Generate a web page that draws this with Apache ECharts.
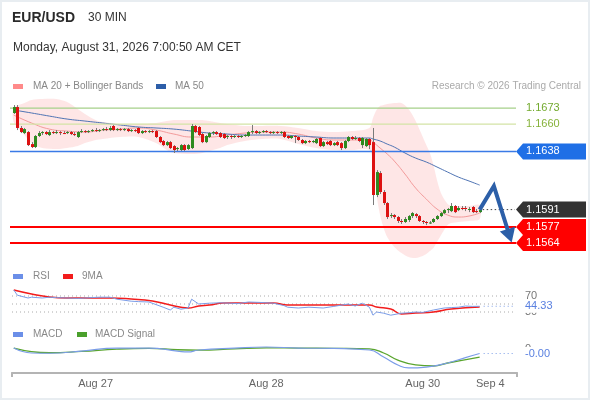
<!DOCTYPE html>
<html><head><meta charset="utf-8">
<script src="https://cdn.jsdelivr.net/npm/echarts@6/dist/echarts.min.js"></script>
<style>html,body{margin:0;padding:0;background:#fff}#c{width:590px;height:400px}</style>
</head><body><div id="c"></div>
<script>
// ---------- DATA ----------
// candles: [open, close, low, high], 30-min bars
const candles = [
 [1.16690,1.16738,1.16682,1.16754],[1.16738,1.16569,1.16552,1.16754],[1.16569,1.16536,1.16528,1.16585],
 [1.16528,1.16560,1.16520,1.16569],[1.16536,1.16431,1.16423,1.16544],[1.16439,1.16415,1.16407,1.16455],
 [1.16415,1.16504,1.16407,1.16512],[1.16504,1.16528,1.16496,1.16544],[1.16528,1.16536,1.16512,1.16544],
 [1.16536,1.16520,1.16512,1.16544],[1.16512,1.16536,1.16504,1.16552],[1.16536,1.16528,1.16520,1.16544],
 [1.16528,1.16536,1.16520,1.16552],[1.16536,1.16528,1.16512,1.16544],[1.16528,1.16524,1.16520,1.16544],
 [1.16528,1.16536,1.16520,1.16544],[1.16536,1.16520,1.16512,1.16544],[1.16520,1.16512,1.16504,1.16536],
 [1.16496,1.16536,1.16488,1.16544],[1.16536,1.16544,1.16528,1.16560],[1.16544,1.16536,1.16528,1.16552],
 [1.16536,1.16544,1.16528,1.16552],[1.16544,1.16552,1.16536,1.16560],[1.16552,1.16544,1.16536,1.16569],
 [1.16544,1.16552,1.16536,1.16560],[1.16552,1.16560,1.16544,1.16569],[1.16560,1.16552,1.16544,1.16577],
 [1.16552,1.16569,1.16544,1.16585],[1.16585,1.16552,1.16544,1.16593],[1.16552,1.16560,1.16544,1.16569],
 [1.16560,1.16552,1.16544,1.16569],[1.16552,1.16560,1.16544,1.16569],[1.16560,1.16544,1.16536,1.16569],
 [1.16544,1.16552,1.16536,1.16560],[1.16552,1.16544,1.16536,1.16560],[1.16569,1.16528,1.16520,1.16577],
 [1.16528,1.16544,1.16520,1.16552],[1.16544,1.16536,1.16528,1.16552],[1.16536,1.16544,1.16528,1.16552],
 [1.16544,1.16536,1.16528,1.16552],[1.16544,1.16496,1.16488,1.16552],[1.16496,1.16455,1.16447,1.16504],
 [1.16464,1.16431,1.16423,1.16472],[1.16431,1.16455,1.16423,1.16464],[1.16455,1.16407,1.16399,1.16464],
 [1.16423,1.16391,1.16367,1.16431],[1.16399,1.16407,1.16383,1.16415],[1.16391,1.16431,1.16383,1.16439],
 [1.16431,1.16391,1.16383,1.16439],[1.16399,1.16431,1.16391,1.16439],[1.16407,1.16585,1.16399,1.16601],
 [1.16585,1.16536,1.16528,1.16593],[1.16577,1.16512,1.16504,1.16585],[1.16520,1.16455,1.16447,1.16528],
 [1.16455,1.16504,1.16447,1.16512],[1.16496,1.16528,1.16488,1.16536],[1.16528,1.16536,1.16512,1.16544],
 [1.16536,1.16520,1.16512,1.16544],[1.16528,1.16496,1.16488,1.16536],[1.16520,1.16488,1.16480,1.16528],
 [1.16496,1.16504,1.16480,1.16512],[1.16504,1.16496,1.16480,1.16512],[1.16496,1.16504,1.16488,1.16512],
 [1.16504,1.16496,1.16488,1.16512],[1.16496,1.16504,1.16488,1.16512],[1.16504,1.16512,1.16496,1.16520],
 [1.16504,1.16536,1.16496,1.16544],[1.16536,1.16544,1.16520,1.16593],[1.16544,1.16528,1.16520,1.16552],
 [1.16528,1.16536,1.16520,1.16544],[1.16536,1.16544,1.16528,1.16552],[1.16544,1.16536,1.16528,1.16552],
 [1.16536,1.16528,1.16520,1.16544],[1.16528,1.16536,1.16520,1.16544],[1.16536,1.16528,1.16520,1.16544],
 [1.16528,1.16536,1.16520,1.16544],[1.16536,1.16496,1.16488,1.16544],[1.16504,1.16488,1.16480,1.16512],
 [1.16488,1.16504,1.16480,1.16512],[1.16504,1.16496,1.16447,1.16512],[1.16496,1.16472,1.16464,1.16504],
 [1.16472,1.16447,1.16439,1.16480],[1.16447,1.16464,1.16439,1.16472],[1.16464,1.16455,1.16447,1.16472],
 [1.16455,1.16464,1.16447,1.16472],[1.16447,1.16480,1.16439,1.16488],[1.16488,1.16423,1.16415,1.16496],
 [1.16423,1.16455,1.16415,1.16464],[1.16455,1.16439,1.16431,1.16464],[1.16464,1.16431,1.16423,1.16472],
 [1.16431,1.16447,1.16423,1.16455],[1.16455,1.16431,1.16423,1.16464],[1.16447,1.16407,1.16391,1.16455],
 [1.16407,1.16464,1.16399,1.16472],[1.16464,1.16496,1.16455,1.16504],[1.16496,1.16480,1.16472,1.16504],
 [1.16480,1.16488,1.16472,1.16504],[1.16488,1.16464,1.16455,1.16496],[1.16431,1.16488,1.16407,1.16496],
 [1.16423,1.16480,1.16415,1.16488],[1.16480,1.16431,1.16399,1.16488],[1.16455,1.16028,1.15947,1.16569],
 [1.16028,1.16213,1.16011,1.16229],[1.16205,1.16052,1.16036,1.16221],[1.16052,1.15963,1.15947,1.16068],
 [1.15963,1.15850,1.15834,1.15971],[1.15858,1.15866,1.15842,1.15882],[1.15866,1.15850,1.15834,1.15874],
 [1.15850,1.15818,1.15802,1.15858],[1.15818,1.15810,1.15794,1.15834],[1.15810,1.15834,1.15802,1.15850],
 [1.15826,1.15858,1.15810,1.15866],[1.15858,1.15882,1.15842,1.15890],[1.15874,1.15858,1.15842,1.15882],
 [1.15858,1.15818,1.15810,1.15866],[1.15818,1.15810,1.15794,1.15826],[1.15810,1.15802,1.15785,1.15818],
 [1.15802,1.15806,1.15794,1.15818],[1.15810,1.15834,1.15802,1.15842],[1.15834,1.15858,1.15826,1.15866],
 [1.15858,1.15882,1.15850,1.15890],[1.15882,1.15906,1.15874,1.15915],[1.15906,1.15915,1.15882,1.15923],
 [1.15898,1.15939,1.15890,1.15963],[1.15939,1.15890,1.15882,1.15947],[1.15906,1.15923,1.15898,1.15939],
 [1.15923,1.15919,1.15906,1.15939],[1.15923,1.15915,1.15898,1.15939],[1.15915,1.15915,1.15890,1.15931],
 [1.15931,1.15890,1.15882,1.15939],[1.15898,1.15894,1.15882,1.15915],[1.15890,1.15910,1.15882,1.15923]
];
const slotCount = 142;
const tickIndex = [23, 71, 115, 134];
const tickText = ['Aug 27', 'Aug 28', 'Aug 30', 'Sep 4'];

const maIdx = [0,5,10,15,20,25,30,35,40,45,50,55,60,65,70,75,80,85,90,95,100,101,103,105,107,110,113,116,119,122,125,128,131];
const ma20 = [1.16673,1.16609,1.16560,1.16544,1.16536,1.16552,1.16560,1.16569,1.16552,1.16520,1.16496,1.16496,1.16512,1.16528,1.16536,1.16536,1.16520,1.16488,1.16472,1.16472,1.16472,1.16455,1.16407,1.16359,1.16302,1.16197,1.16084,1.15995,1.15915,1.15866,1.15850,1.15858,1.15882];
const ma50 = [1.16714,1.16690,1.16665,1.16641,1.16625,1.16609,1.16593,1.16577,1.16569,1.16560,1.16544,1.16528,1.16520,1.16512,1.16512,1.16512,1.16504,1.16496,1.16488,1.16488,1.16488,1.16480,1.16464,1.16439,1.16415,1.16367,1.16326,1.16294,1.16254,1.16213,1.16173,1.16141,1.16108];

const bandIdx = [0,3,5,8,12,15,18,20,23,25,30,35,40,43,45,50,53,55,58,60,65,70,75,80,85,90,95,100,101,102,103,104,105,107,109,111,113,115,116,117,118,119,120,121,122,123,125,128,131];
const bandUpper = [1.16730,1.16770,1.16795,1.16803,1.16803,1.16778,1.16722,1.16682,1.16633,1.16617,1.16601,1.16601,1.16609,1.16625,1.16633,1.16633,1.16633,1.16625,1.16609,1.16601,1.16585,1.16585,1.16585,1.16569,1.16544,1.16536,1.16544,1.16569,1.16649,1.16714,1.16746,1.16754,1.16762,1.16770,1.16770,1.16722,1.16625,1.16496,1.16431,1.16367,1.16270,1.16149,1.16052,1.15995,1.15955,1.15939,1.15939,1.15939,1.15947];
const bandLower = [1.16617,1.16512,1.16447,1.16407,1.16399,1.16407,1.16423,1.16447,1.16472,1.16480,1.16496,1.16496,1.16447,1.16391,1.16367,1.16359,1.16367,1.16383,1.16407,1.16431,1.16464,1.16480,1.16480,1.16439,1.16407,1.16391,1.16391,1.16391,1.16270,1.16028,1.15866,1.15761,1.15688,1.15608,1.15559,1.15527,1.15519,1.15535,1.15551,1.15575,1.15600,1.15648,1.15697,1.15745,1.15785,1.15801,1.15810,1.15818,1.15834];

const rsiIdx = [0,1,4,5,8,10,12,15,18,20,22,24,27,29,33,35,38,42,44,45,47,49,50,52,55,58,61,63,66,69,73,76,77,80,83,87,90,94,96,98,100,101,102,104,106,109,111,113,115,118,121,123,125,127,129,131];
const rsi = [85,72,65,67,65,67,66,65,64,65,66,67,67,62,57,56,55,42,35,42,37,40,62,50,52,53,52,51,55,54,52,46,42,40,42,40,44,50,45,52,42,22,30,27,22,27,28,30,29,35,40,41,42,45,44,44.33];
const rsiMaIdx = [0,5,10,15,27,33,39,44,49,52,55,59,63,73,77,82,96,100,102,106,109,113,118,123,131];
const rsiMa = [85,75,67.5,65,65,62.5,57.5,47.5,40,45,47.5,52.5,52.5,52.5,47.5,47.5,47.5,47.5,42.5,37.5,25,27.5,30,37.5,42.5];
const rsiLevels = [70, 50, 30];

const macdIdx = [0,5,10,19,29,38,46,49,52,62,71,80,90,100,104,108,111,116,122,127,131];
const macd = [0.00038,0.00000,-0.00002,0.00015,0.00038,0.00038,0.00015,0.00008,0.00023,0.00038,0.00046,0.00038,0.00035,0.00023,-0.00031,-0.00092,-0.00115,-0.00108,-0.00077,-0.00035,-0.00004];
const sigIdx = [0,10,19,29,38,46,52,62,71,80,90,100,104,108,113,118,122,131];
const macdSignal = [0.00038,0.00002,0.00012,0.00030,0.00036,0.00025,0.00022,0.00032,0.00040,0.00038,0.00036,0.00031,0.00000,-0.00054,-0.00092,-0.00100,-0.00077,-0.00031];

const levels = [1.1673, 1.1660, 1.1638, 1.1591, 1.1577, 1.1564];
const arrowPath = [[131, 1.1591], [135, 1.1610], [140.3, 1.15645]];

// ---------- STYLE ----------
const FONT = '"Liberation Sans", Arial, sans-serif';
const levelStyle = [
  {line:'#a6d08a', w:1.2, text:'#73aa2e', tag:null},
  {line:'#d3e3a6', w:1.2, text:'#86b23a', tag:null},
  {line:'#3a7ae6', w:1.5, text:'#fff', tag:'#1f6fe6'},
  {line:null,      w:0,   text:'#fff', tag:'#333333'},
  {line:'#ff0000', w:2,   text:'#fff', tag:'#ff0000'},
  {line:'#ff0000', w:2,   text:'#fff', tag:'#ff0000'}
];
const GL = 12, GW = 505;
const xCats = Array.from({length: slotCount}, (_, i) => 'b' + i);
const pairs = (ix, vals) => ix.map((x, k) => [x, vals[k]]);

const chart = echarts.init(document.getElementById('c'));
const option = {
  animation: false,
  backgroundColor: '#fff',
  grid: [
    {left: GL, width: GW, top: 94.4, height: 166},
    {left: GL, width: GW, top: 284, height: 40},
    {left: GL, width: GW, top: 337.4, height: 31.2}
  ],
  xAxis: [0,1,2].map(g => ({
    type: 'category', gridIndex: g, data: xCats, boundaryGap: true,
    show: g === 2, offset: g === 2 ? 4 : 0, position: 'bottom',
    axisLine: {show: true, onZero: false, lineStyle: {color: '#b4b4b4', width: 2}},
    axisTick: {show: false}, splitLine: {show: false},
    axisLabel: {interval: 0, margin: 6, color: '#666', fontSize: 11, fontFamily: FONT,
      formatter: (v, i) => { const k = tickIndex.indexOf(i); return k >= 0 ? tickText[k] : ''; }}
  })),
  yAxis: [
    {gridIndex: 0, type: 'value', min: 1.1550, max: 1.1684, show: false},
    {gridIndex: 1, type: 'value', min: 0, max: 100, show: false},
    {gridIndex: 2, type: 'value', min: -0.0012, max: 0.0012, show: false}
  ],
  series: [
    { // Bollinger band fill
      type: 'custom', xAxisIndex: 0, yAxisIndex: 0, z: 1, silent: true,
      data: [[0, bandUpper[0]]],
      renderItem: (params, api) => {
        const pts = [];
        bandIdx.forEach((x, k) => pts.push(api.coord([x, bandUpper[k]])));
        for (let k = bandIdx.length - 1; k >= 0; k--) pts.push(api.coord([bandIdx[k], bandLower[k]]));
        return {type: 'polygon', shape: {points: pts, smooth: 0.3}, style: {fill: 'rgba(252,196,196,0.42)'}};
      }
    },
    {
      type: 'line', xAxisIndex: 0, yAxisIndex: 0, z: 3, data: pairs(maIdx, ma20), smooth: true,
      showSymbol: false, lineStyle: {color: '#f39a9a', width: 1}, silent: true
    },
    {
      type: 'line', xAxisIndex: 0, yAxisIndex: 0, z: 3, data: pairs(maIdx, ma50), smooth: true,
      showSymbol: false, lineStyle: {color: '#4f74b4', width: 1}, silent: true
    },
    { // candles
      type: 'custom', xAxisIndex: 0, yAxisIndex: 0, z: 5, silent: true,
      data: candles.map((d, i) => [i, d[0], d[1], d[2], d[3]]),
      encode: {x: 0, y: [1, 2, 3, 4]},
      renderItem: (params, api) => {
        const i = api.value(0), o = api.value(1), c = api.value(2), l = api.value(3), h = api.value(4);
        const pH = api.coord([i, h]), pL = api.coord([i, l]), pO = api.coord([i, o]), pC = api.coord([i, c]);
        const x = Math.round(pH[0]);
        const top = Math.min(pO[1], pC[1]), bot = Math.max(pO[1], pC[1]);
        return {type: 'group', children: [
          {type: 'line', shape: {x1: x + 0.5, y1: pH[1], x2: x + 0.5, y2: pL[1]}, style: {stroke: '#7a7a7a', lineWidth: 1}},
          {type: 'rect', shape: {x: x - 1, y: top, width: 3, height: Math.max(1, bot - top)}, style: {fill: c >= o ? '#2e8a1f' : '#dd1111'}}
        ]};
      }
    },
    {
      type: 'line', xAxisIndex: 1, yAxisIndex: 1, data: pairs(rsiIdx, rsi), showSymbol: false, silent: true,
      lineStyle: {color: '#7b9de8', width: 1}, z: 3
    },
    {
      type: 'line', xAxisIndex: 1, yAxisIndex: 1, data: pairs(rsiMaIdx, rsiMa), showSymbol: false, silent: true,
      smooth: true, lineStyle: {color: '#f21c1c', width: 1.5}, z: 2
    },
    {
      type: 'line', xAxisIndex: 2, yAxisIndex: 2, data: pairs(sigIdx, macdSignal), showSymbol: false, silent: true,
      smooth: true, lineStyle: {color: '#5aa52e', width: 1.3}, z: 2
    },
    {
      type: 'line', xAxisIndex: 2, yAxisIndex: 2, data: pairs(macdIdx, macd), showSymbol: false, silent: true,
      smooth: true, lineStyle: {color: '#7b9de8', width: 1.2}, z: 3
    }
  ]
};
chart.setOption(option);

// ---------- overlays positioned through the chart's own scales ----------
const px = (g, x, y) => chart.convertToPixel({gridIndex: g}, [x, y]);
const txt = (t, x, y, o) => Object.assign({type: 'text', silent: true, z: 50,
  style: Object.assign({text: t, x: x, y: y, fill: '#333', fontSize: 12, fontFamily: FONT, verticalAlign: 'middle', align: 'left'}, o || {})});
const hline = (x1, x2, y, stroke, w, dash, z) => ({type: 'line', silent: true, z: z || 4,
  shape: {x1: x1, y1: y, x2: x2, y2: y}, style: {stroke: stroke, lineWidth: w, lineDash: dash || null}});
const g = [];
g.push({type: 'rect', silent: true, z: 100, shape: {x: 1, y: 1, width: 588, height: 398}, style: {fill: 'none', stroke: '#e8edf1', lineWidth: 2}});
g.push(txt('EUR/USD', 12, 18, {fontSize: 14, fontWeight: 'bold', fill: '#2a2a2a'}));
g.push(txt('30 MIN', 88, 18, {fontSize: 12, fill: '#333'}));
g.push(txt('Monday, August 31, 2026 7:00:50 AM CET', 13, 48, {fontSize: 12, fill: '#333'}));
// legends
const legend = (x, y, color, label, tx) => {
  g.push({type: 'rect', silent: true, z: 50, shape: {x: x, y: y - 2.5, width: 10, height: 5}, style: {fill: color}});
  g.push(txt(label, tx, y, {fontSize: 10, fill: '#888'}));
};
legend(13, 86.5, '#ff8a8a', 'MA 20 + Bollinger Bands', 33);
legend(156, 86.5, '#2d5ea8', 'MA 50', 175);
g.push(txt('Research \u00a9 2026 Trading Central', 581, 86.5, {fontSize: 10, fill: '#aaa', align: 'right'}));
legend(13, 276.5, '#6b8fe8', 'RSI', 33);
legend(63, 276.5, '#f21c1c', '9MA', 82);
legend(13, 334.5, '#6b8fe8', 'MACD', 33);
legend(77, 334.5, '#4aa02c', 'MACD Signal', 95);

// level lines and tags
levels.forEach((v, k) => {
  const y = px(0, 0, v)[1];
  const s = levelStyle[k];
  if (s.line) g.push(hline(10, 516, y, s.line, s.w, null, 4));
  if (s.tag) {
    g.push({type: 'polygon', silent: true, z: 40, shape: {points: [[516, y], [523, y - 8], [586, y - 8], [586, y + 8], [523, y + 8]]}, style: {fill: s.tag}});
  }
  g.push(txt(v.toFixed(4), 526, y, {fontSize: 11, fill: s.text}));
});
// dotted line from last close
const lastP = px(0, candles.length - 1, levels[3]);
g.push(hline(lastP[0] + 3, 515, lastP[1], '#444', 1, [1.5, 2.5], 30));

// arrow
const a = arrowPath.map(p => px(0, p[0], p[1]));
const tip = a[2], prev = a[1];
const dx = tip[0] - prev[0], dy = tip[1] - prev[1], len = Math.hypot(dx, dy), ux = dx / len, uy = dy / len;
const hl = 14, hw = 8;
const base = [tip[0] - ux * hl, tip[1] - uy * hl];
g.push({type: 'polyline', silent: true, z: 45, shape: {points: [a[0], a[1], [base[0] + ux * 2, base[1] + uy * 2]]}, style: {stroke: '#2c5fa8', lineWidth: 4, lineJoin: 'miter', fill: null}});
g.push({type: 'polygon', silent: true, z: 45, shape: {points: [tip, [base[0] + uy * hw, base[1] - ux * hw], [base[0] - uy * hw, base[1] + ux * hw]]}, style: {fill: '#2c5fa8'}});

// RSI reference lines and labels
rsiLevels.forEach(v => {
  const y = px(1, 0, v)[1];
  g.push(hline(12, 513, y, '#aaa', 1, [1, 3], 1));
  if (v !== 50) g.push(txt(String(v), 525, y, {fontSize: 11, fill: '#777'}));
});
const rsiLast = rsi[rsi.length - 1];
const rl = px(1, rsiIdx[rsiIdx.length - 1], rsiLast);
g.push(hline(rl[0] + 4, 513, rl[1], '#7b9de8', 1, [1, 3], 30));
g.push(txt(rsiLast.toFixed(2), 524, rl[1], {fontSize: 11, fill: '#5a80e0', backgroundColor: '#fff', padding: [1, 1]}));

// MACD labels
const macdLast = macd[macd.length - 1];
const ml = px(2, macdIdx[macdIdx.length - 1], macdLast);
const zeroY = px(2, 0, 0)[1];
g.push(txt('0', 525, zeroY - 4.5, {fontSize: 11, fill: '#777'}));
g.push(hline(ml[0] + 4, 513, ml[1], '#7b9de8', 1, [1, 3], 30));
g.push(txt(macdLast.toFixed(2), 524, ml[1], {fontSize: 11, fill: '#5a80e0', backgroundColor: '#fff', padding: [1, 1]}));

// axis end ticks
[GL, GL + GW].forEach(x => g.push({type: 'line', silent: true, z: 30, shape: {x1: x, y1: 372.6, x2: x, y2: 377}, style: {stroke: '#b4b4b4', lineWidth: 2}}));

chart.setOption({graphic: g});
</script>
</body></html>
